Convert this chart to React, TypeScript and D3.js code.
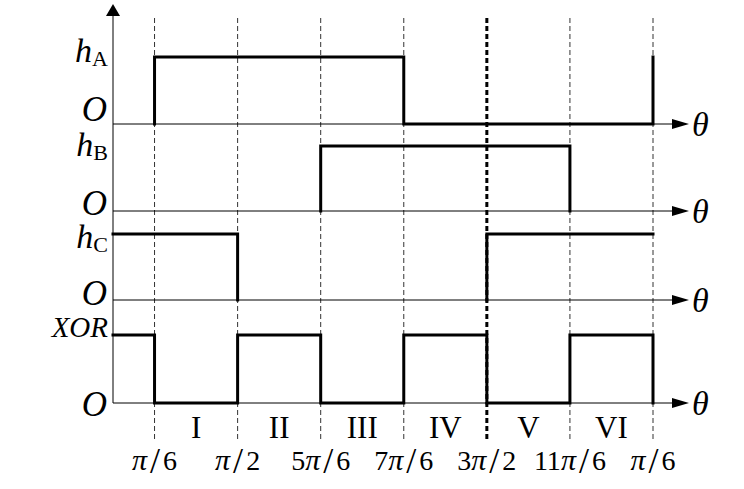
import React from 'react'
import * as d3 from 'd3'

const PI = Math.PI

// sector boundaries (rad) and their tick labels
const boundaries = [PI / 6, PI / 2, 5 * PI / 6, 7 * PI / 6, 3 * PI / 2, 11 * PI / 6, 13 * PI / 6]
const boundaryNum = ['', '', '5', '7', '3', '11', '']
const boundaryDen = ['6', '2', '6', '6', '2', '6', '6']
const sectors = ['I', 'II', 'III', 'IV', 'V', 'VI']

// step signals as [theta, level] vertex lists (one list per drawn segment)
const hA: [number, number][][] = [
  [[PI / 6, 0], [PI / 6, 1], [7 * PI / 6, 1], [7 * PI / 6, 0], [13 * PI / 6, 0], [13 * PI / 6, 1]],
]
const hB: [number, number][][] = [
  [[5 * PI / 6, 0], [5 * PI / 6, 1], [11 * PI / 6, 1], [11 * PI / 6, 0]],
]
const hC: [number, number][][] = [
  [[0, 1], [PI / 2, 1], [PI / 2, 0]],
  [[3 * PI / 2, 0], [3 * PI / 2, 1], [13 * PI / 6, 1]],
]
const xor: [number, number][][] = [
  [[0, 1], [PI / 6, 1], [PI / 6, 0], [PI / 2, 0], [PI / 2, 1], [5 * PI / 6, 1], [5 * PI / 6, 0],
   [7 * PI / 6, 0], [7 * PI / 6, 1], [3 * PI / 2, 1], [3 * PI / 2, 0], [11 * PI / 6, 0],
   [11 * PI / 6, 1], [13 * PI / 6, 1], [13 * PI / 6, 0]],
]

const font = '"Times New Roman", "Liberation Serif", serif'

const panels = [
  { name: 'A', data: hA, base: 124, high: 57, hY: 62, oY: 121 },
  { name: 'B', data: hB, base: 211, high: 146, hY: 156, oY: 215 },
  { name: 'C', data: hC, base: 300, high: 234, hY: 248, oY: 305 },
  { name: 'XOR', data: xor, base: 403, high: 335, hY: 337, oY: 416 },
]

export default function App() {
  const width = 744
  const height = 489
  const x = d3.scaleLinear().domain([0, 13 * PI / 6]).range([113, 653])
  const axisX0 = 113
  const axisX1 = 689

  return (
    <svg width={width} height={height} style={{ position: 'absolute', left: 0, top: 0, background: '#fff' }}
      fontFamily={font}>
      {/* vertical guide lines */}
      {boundaries.map((b, i) => (
        <line key={'g' + i} x1={x(b)} x2={x(b)} y1={18} y2={440}
          stroke={i === 4 ? '#000' : '#333'} strokeWidth={i === 4 ? 3 : 1}
          strokeDasharray="5,3" />
      ))}

      {/* vertical axis */}
      <line x1={axisX0} x2={axisX0} y1={403} y2={12} stroke="#000" strokeWidth={1} />
      <path d={`M${axisX0},4 L${axisX0 - 7},16 L${axisX0 + 7},16 Z`} fill="#000" />

      {panels.map(p => {
        const y = d3.scaleLinear().domain([0, 1]).range([p.base, p.high])
        const line = d3.line<[number, number]>().x(d => x(d[0])).y(d => y(d[1]))
        return (
          <g key={p.name}>
            <line x1={axisX0} x2={axisX1 - 14} y1={p.base} y2={p.base} stroke="#000" strokeWidth={1} />
            <path d={`M${axisX1},${p.base} L${axisX1 - 17},${p.base - 5} L${axisX1 - 17},${p.base + 5} Z`} fill="#000" />
            <text x={692} y={p.base + 12} fontSize={34} fontStyle="italic">θ</text>
            {p.data.map((seg, i) => (
              <path key={i} d={line(seg) || ''} fill="none" stroke="#000" strokeWidth={3}
                strokeLinejoin="miter" strokeLinecap="square" />
            ))}
            {p.name === 'XOR' ? (
              <text x={108} y={p.hY} fontSize={29} fontStyle="italic" textAnchor="end">XOR</text>
            ) : (
              <text x={108} y={p.hY} textAnchor="end">
                <tspan fontSize={34} fontStyle="italic">h</tspan>
                <tspan fontSize={22} dy={4}>{p.name}</tspan>
              </text>
            )}
            <text x={107} y={p.oY} fontSize={35} fontStyle="italic" textAnchor="end">O</text>
          </g>
        )
      })}

      {/* sector numerals */}
      {sectors.map((s, i) => (
        <text key={s} x={(x(boundaries[i]) + x(boundaries[i + 1])) / 2} y={438}
          fontSize={31} textAnchor="middle">{s}</text>
      ))}

      {/* boundary labels */}
      {boundaries.map((b, i) => (
        <text key={'l' + i} x={x(b)} y={470} fontSize={28} textAnchor="middle">
          {boundaryNum[i]}<tspan fontStyle="italic" fontSize={30}>π</tspan>
          <tspan fontSize={36} dx={3} dy={3}>/</tspan>
          <tspan dx={3} dy={-3}>{boundaryDen[i]}</tspan>
        </text>
      ))}
    </svg>
  )
}
